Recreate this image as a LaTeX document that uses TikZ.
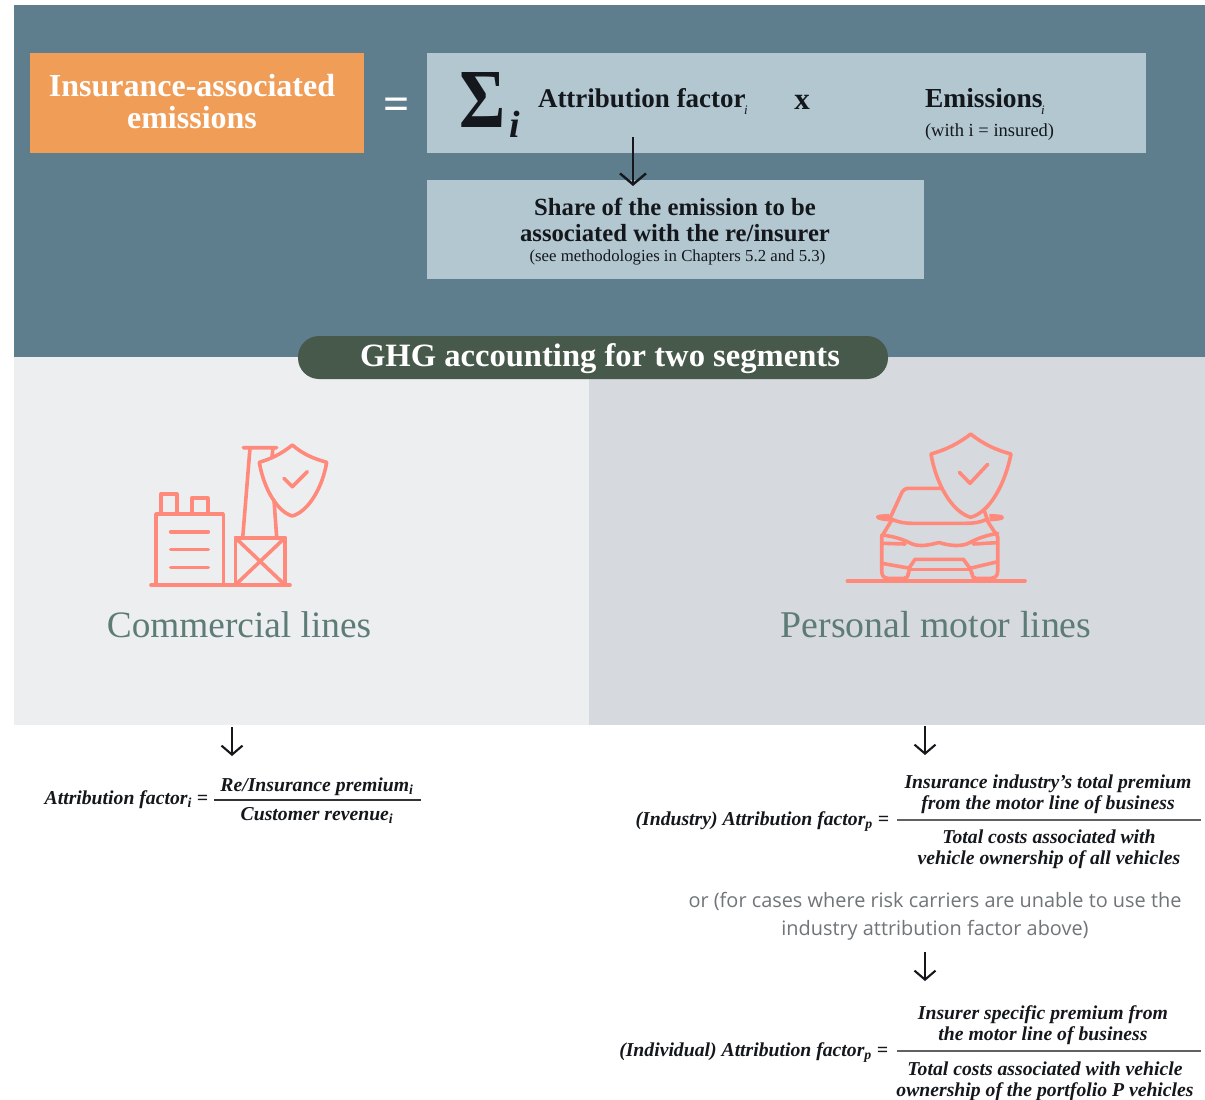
\documentclass[tikz,border=0pt]{standalone}
\usepackage{fontspec}
\setmainfont{Liberation Serif}
\newfontfamily\orfont{Open Sans}
\usetikzlibrary{arrows.meta}
\definecolor{slateblue}{HTML}{5F7E8D}
\definecolor{orangebox}{HTML}{F09D58}
\definecolor{paleblue}{HTML}{B3C7D1}
\definecolor{pillgreen}{HTML}{46594A}
\definecolor{panelL}{HTML}{EDEEF0}
\definecolor{panelR}{HTML}{D6D9DE}
\definecolor{salmon}{HTML}{FF8A7C}
\definecolor{headcol}{HTML}{5E7C76}
\definecolor{inkcol}{HTML}{14181C}
\definecolor{orgrey}{HTML}{6F7578}
\newcommand{\fsz}[2]{\fontsize{#1}{#2}\selectfont}
\newcommand{\topsub}{\kern-1.5pt\raisebox{-7pt}{\fontsize{13}{13}\selectfont\itshape\fontseries{m}\selectfont i}}
\tikzset{
  x=1pt,y=-1pt,
  block/.style={draw=none,inner sep=0,outer sep=0},
  txt/.style={inner sep=0,outer sep=0,text=inkcol},
  bw/.style={txt,anchor=base west},
  bc/.style={txt,anchor=base},
  be/.style={txt,anchor=base east},
  formula/.style={font=\bfseries\itshape\fsz{19.7}{21}},
  fracbar/.style={draw=#1,line width=2pt},
  fracbar/.default=black!62,
  arrowline/.style={draw=inkcol,line width=2.1pt,-{Straight Barb[length=9pt,width=21pt,line width=2.1pt]}},
  bigarrowline/.style={draw=inkcol,line width=2.4pt,-{Straight Barb[length=11pt,width=26pt,line width=2.4pt]}},
  icon/.style={draw=salmon,line width=3.6pt,line cap=round,line join=round},
}
\newcommand{\boxat}[6]{\fill[#6] (#2,#3) rectangle (#4,#5) node[midway,block] (#1) {};}
\begin{document}
\begin{tikzpicture}
\useasboundingbox (0,0) rectangle (1205,1100);
\fill[white] (0,0) rectangle (1205,1100);
\boxat{bg}{14}{5}{1205}{357}{slateblue}
\boxat{panelleft}{14}{357}{589}{725}{panelL}
\boxat{panelright}{589}{357}{1205}{725}{panelR}
\boxat{orange}{30}{53}{364}{153}{orangebox}
\boxat{sumbox}{427}{53}{1146}{153}{paleblue}
\boxat{sharebox}{427}{180}{924}{279}{paleblue}
\fill[pillgreen,rounded corners=21pt] (298,336) rectangle (888,379);

\node[txt,text=white,align=center,font=\bfseries\fsz{32}{32}] (lhs) at (192,102) {Insurance-associated\\emissions};
\node[txt,text=white,font=\bfseries\fsz{46}{46}] (eq) at (397,109) {=};
\node[bw,font=\bfseries\fsz{84}{84},xscale=.84] (sigma) at (459,127) {Σ};
\node[bw,font=\bfseries\itshape\fsz{38}{38}] (sigi) at (509,137) {i};
\node[bw,font=\bfseries\fsz{27}{28}] (af) at (538,107) {Attribution factor\topsub};
\node[bc,font=\bfseries\fsz{31}{31}] (times) at (802,109) {x};
\node[bw,font=\bfseries\fsz{27.5}{28}] (em) at (925,107) {Emissions\topsub};
\node[bw,font=\fsz{18.5}{18}] (withi) at (925,136) {(with i = insured)};
\node[txt,align=center,font=\bfseries\fsz{24.7}{26}] (share) at (675,220) {Share of the emission to be\\associated with the re/insurer};
\node[bc,font=\fsz{16.8}{17}] (sharenote) at (677.5,261) {(see methodologies in Chapters 5.2 and 5.3)};
\node[bc,text=white,font=\bfseries\fsz{32.6}{33}] (pill) at (600,366) {GHG accounting for two segments};
\node[bc,text=headcol,font=\fsz{37.3}{38}] (commercial) at (239,637) {Commercial lines};
\node[bc,text=headcol,font=\fsz{37.8}{38}] (personal) at (936,637) {Personal motor lines};

% connectors
\coordinate (a1s) at (633,137);
\coordinate (a1e) at (633,186);
\draw[bigarrowline] (a1s) -- (a1e);
\coordinate (a2s) at (232,727);
\coordinate (a2e) at (232,756);
\draw[arrowline] (a2s) -- (a2e);
\coordinate (a3s) at (925,726);
\coordinate (a3e) at (925,755);
\draw[arrowline] (a3s) -- (a3e);
\coordinate (a4s) at (925,952);
\coordinate (a4e) at (925,981);
\draw[arrowline] (a4s) -- (a4e);

% commercial formula
\node[be,formula] (fl) at (208,804.5) {Attribution factor\textsubscript{i} =};
\node[bc,formula] (fln) at (317,791) {Re/Insurance premium\textsubscript{i}};
\node[bc,formula] (fld) at (317,820) {Customer revenue\textsubscript{i}};
\coordinate (fbl1) at (214,799.5); \coordinate (fbl2) at (421,799.5);
\draw[fracbar=black!80] (fbl1) -- (fbl2);

% industry formula
\node[be,formula] (fi) at (889,825.5) {(Industry) Attribution factor\textsubscript{p} =};
\node[txt,formula,align=center] (fin) at (1048,794.5) {Insurance industry’s total premium\\from the motor line of business};
\node[txt,formula,align=center] (fid) at (1049,849) {Total costs associated with\\vehicle ownership of all vehicles};
\coordinate (fbi1) at (897,820); \coordinate (fbi2) at (1201,820);
\draw[fracbar] (fbi1) -- (fbi2);

\node[txt,text=orgrey,align=center,font=\orfont\fsz{19.9}{28}] (ortext) at (935,916) {or (for cases where risk carriers are unable to use the\\industry attribution factor above)};

% individual formula
\node[be,formula] (fp) at (888,1056) {(Individual) Attribution factor\textsubscript{p} =};
\node[txt,formula,align=center] (fpn) at (1043,1025) {Insurer specific premium from\\the motor line of business};
\node[txt,formula,align=center] (fpd) at (1045,1081) {Total costs associated with vehicle\\ownership of the portfolio P vehicles};
\coordinate (fbp1) at (897,1051); \coordinate (fbp2) at (1201,1051);
\draw[fracbar] (fbp1) -- (fbp2);

% factory icon
\begin{scope}[icon]
\draw (151,585) -- (290,585);
\draw (156,585) -- (156,514) -- (223.3,514) -- (223.3,585);
\draw (160.7,514) -- (160.7,494) -- (176.7,494) -- (176.7,514);
\draw (191.7,514) -- (191.7,498) -- (207.7,498) -- (207.7,514);
\draw (170.7,531.7) -- (208.3,531.7);
\draw (170.7,549.3) -- (208.3,549.3);
\draw (170.7,567.3) -- (208.3,567.3);
\draw (235.3,585) -- (235.3,537.7) -- (285,537.7) -- (285,585);
\draw (235.3,585) -- (285,537.7) (235.3,537.7) -- (285,585);
\draw (242.7,537.7) -- (250,448) (243.3,447.7) -- (276.7,447.7) (273,448) -- (272,456.7) (274,500) -- (276.7,537.7);
\draw (292.3,445) .. controls (280,455) and (270,459) .. (259.3,462.3) .. controls (264,490) and (278,512) .. (292.3,516) .. controls (307,512) and (322,490) .. (326.7,462.3) .. controls (315,459) and (304,455) .. (292.3,445) -- cycle;
\draw (284,478.3) -- (292.3,486.7) -- (307.3,471.7);
\end{scope}

% car icon
\begin{scope}[icon]
\draw (847.3,581) -- (1025,581);
\draw (890,518.3) -- (900.7,495) .. controls (902,491) and (905,488.3) .. (908.3,488.3) -- (941.7,488.3);
\draw (984,510) -- (987.3,519.3);
\draw (891.7,519.3) .. controls (898,522) and (904,523.3) .. (912,523.3) -- (966,523.3) .. controls (975,523.3) and (981,522) .. (986.7,519.3);
\draw[fill=salmon,line width=1.5pt] (888.7,514.7) .. controls (882,515) and (877,515) .. (876.7,517) .. controls (877,519.5) and (882,520) .. (888.7,520.7) -- cycle;
\draw[fill=salmon,line width=1.5pt] (990,514.7) .. controls (997,515) and (1003,515) .. (1003.3,517.5) .. controls (1003,520) and (997,520) .. (990,520.7) -- cycle;
\draw (891.7,520) -- (881.7,536.7) -- (881.7,571) .. controls (881.7,576) and (884,578) .. (888,578.3) -- (904,578.3) .. controls (907,578) and (908,577) .. (908.3,573);
\draw (986.7,520) -- (997.7,536.7) -- (997.7,571) .. controls (997.7,576) and (995,578) .. (991,578.3) -- (976,578.3) .. controls (973,578) and (972.5,577) .. (972,573);
\draw (881.7,535) .. controls (892,536) and (902,539) .. (909,542.5) .. controls (917,547) and (926,546) .. (939,542.5) .. controls (950,546) and (962,547) .. (970,542.5) .. controls (978,538) and (988,535) .. (997.7,533.3);
\draw (882.7,543.3) -- (905,544);
\draw (973.3,544) -- (996.7,542.7);
\draw (881.7,563.3) -- (910,568.3);
\draw (997.7,561.7) -- (970,568.3);
\draw (908.3,574) -- (910,566.7) -- (915,559.3) -- (963.3,559.3) -- (970,568.3) -- (972,574);
\draw (910,569.3) -- (970,569.3);
\draw[fill=panelR] (970.7,434) .. controls (958,444) and (945,450) .. (931,454) .. controls (936,484) and (952,512) .. (970.7,517.3) .. controls (990,512) and (1005,484) .. (1011,454) .. controls (996,450) and (983,444) .. (970.7,434) -- cycle;
\draw (959.3,472.3) -- (970,483.3) -- (987.7,464.3);
\end{scope}
\end{tikzpicture}
\end{document}
